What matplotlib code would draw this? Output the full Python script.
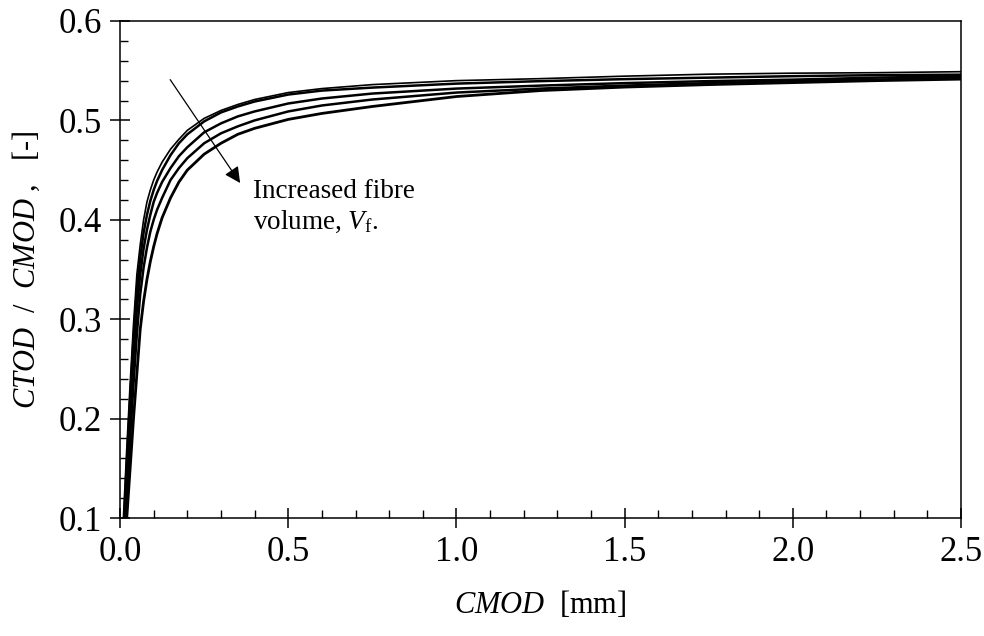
import matplotlib
matplotlib.use("Agg")
import matplotlib.pyplot as plt
from matplotlib.ticker import MultipleLocator

plt.rcParams['font.family'] = ['Liberation Serif', 'DejaVu Serif']
plt.rcParams['mathtext.fontset'] = 'custom'
plt.rcParams['mathtext.rm'] = 'Liberation Serif'
plt.rcParams['mathtext.it'] = 'Liberation Serif:italic'

# CMOD [mm] sample points
cmod = [0.01, 0.02, 0.03, 0.04, 0.05, 0.06, 0.07, 0.08, 0.09, 0.10, 0.11, 0.125, 0.15,
        0.175, 0.2, 0.25, 0.3, 0.35, 0.4, 0.5, 0.6, 0.75, 1.0, 1.25, 1.5, 1.75, 2.0,
        2.25, 2.5]

# CTOD/CMOD for increasing fibre volume (top -> bottom)
vf1 = [0.100, 0.170, 0.235, 0.295, 0.345, 0.375, 0.400, 0.418, 0.430, 0.440, 0.448, 0.458,
       0.471, 0.481, 0.490, 0.502, 0.510, 0.516, 0.521, 0.528, 0.532, 0.536, 0.540, 0.542,
       0.5445, 0.5465, 0.5475, 0.548, 0.549]
vf2 = [0.085, 0.155, 0.220, 0.280, 0.330, 0.362, 0.387, 0.405, 0.419, 0.430, 0.439, 0.450,
       0.465, 0.477, 0.486, 0.499, 0.508, 0.514, 0.519, 0.526, 0.530, 0.533, 0.537, 0.5395,
       0.5415, 0.543, 0.5445, 0.5455, 0.546]
vf3 = [0.075, 0.140, 0.205, 0.262, 0.310, 0.345, 0.371, 0.390, 0.405, 0.418, 0.427, 0.438,
       0.452, 0.464, 0.473, 0.488, 0.497, 0.504, 0.509, 0.517, 0.522, 0.527, 0.532, 0.535,
       0.5375, 0.5395, 0.541, 0.543, 0.5445]
vf4 = [0.065, 0.120, 0.180, 0.235, 0.285, 0.325, 0.352, 0.372, 0.388, 0.400, 0.410, 0.422,
       0.440, 0.452, 0.462, 0.477, 0.487, 0.494, 0.500, 0.509, 0.515, 0.521, 0.528, 0.532,
       0.535, 0.5375, 0.5395, 0.541, 0.543]
vf5 = [0.050, 0.100, 0.150, 0.200, 0.245, 0.290, 0.318, 0.340, 0.358, 0.373, 0.386, 0.402,
       0.422, 0.438, 0.450, 0.466, 0.477, 0.486, 0.492, 0.501, 0.507, 0.514, 0.524, 0.530,
       0.5335, 0.536, 0.538, 0.540, 0.5415]

fig = plt.figure(figsize=(9.84, 6.36), dpi=100)
ax = fig.add_axes([0.122, 0.1855, 0.8546, 0.7815])

widths = [1.2, 1.8, 1.8, 1.8, 2.0]
for ys, w in zip([vf1, vf2, vf3, vf4, vf5], widths):
    ax.plot(cmod, ys, color='black', lw=w, solid_joinstyle='round')

ax.set_xlim(0, 2.5)
ax.set_ylim(0.1, 0.6)
ax.xaxis.set_major_locator(MultipleLocator(0.5))
ax.xaxis.set_minor_locator(MultipleLocator(0.1))
ax.yaxis.set_major_locator(MultipleLocator(0.1))
ax.yaxis.set_minor_locator(MultipleLocator(0.02))
ax.xaxis.set_major_formatter(plt.FormatStrFormatter('%.1f'))
ax.yaxis.set_major_formatter(plt.FormatStrFormatter('%.1f'))

ax.tick_params(which='major', direction='inout', length=14, width=1.1,
               labelsize=25, top=False, right=False, pad=6)
ax.tick_params(which='minor', direction='in', length=6, width=1.0,
               top=False, right=False)
for s in ax.spines.values():
    s.set_linewidth(1.1)

ax.set_xlabel('$CMOD$  [mm]', fontsize=22, labelpad=14)
ax.set_ylabel('$CTOD$  /  $CMOD$ ,   [-]', fontsize=22, labelpad=12)

ax.annotate('', xy=(0.357, 0.437), xytext=(0.149, 0.541),
            arrowprops=dict(arrowstyle='-|>', color='black', lw=0.9,
                            mutation_scale=24, shrinkA=0, shrinkB=0))
ax.text(0.395, 0.441, 'Increased fibre\nvolume, $V_{\\mathrm{f}}$.', fontsize=19.5,
        ha='left', va='top', linespacing=1.25)

fig.savefig('out.png', dpi=100)
